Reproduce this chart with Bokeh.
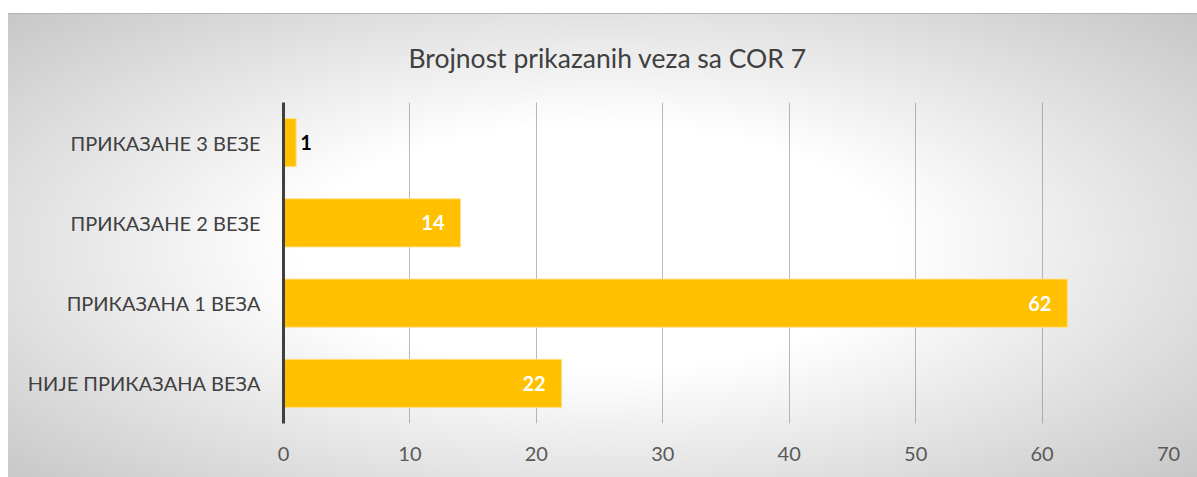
from bokeh.plotting import figure
from bokeh.models import ColumnDataSource, Range1d, FactorRange, FixedTicker
from bokeh.core.properties import value
from bokeh.embed import file_html
from bokeh.resources import INLINE

categories = ["НИЈЕ ПРИКАЗАНА ВЕЗА", "ПРИКАЗАНА 1 ВЕЗА", "ПРИКАЗАНЕ 2 ВЕЗЕ", "ПРИКАЗАНЕ 3 ВЕЗЕ"]
counts = [22, 62, 14, 1]
x_ticks = [0, 10, 20, 30, 40, 50, 60, 70]
title_text = "Brojnost prikazanih veza sa COR 7"

FONT = "Lato"
W, H = 1197, 477
LEFT, RIGHT, TOP, BOTTOM = 283, 29, 102, 54

p = figure(width=W, height=H, y_range=FactorRange(*categories, range_padding=0),
           x_range=Range1d(0, 70), output_backend="svg", toolbar_location=None,
           min_border_left=LEFT, min_border_right=RIGHT, min_border_top=TOP,
           min_border_bottom=BOTTOM, title=title_text)
p.styles = {
    "background": "linear-gradient(#ffffff, #ffffff) left top / 8px 100% no-repeat, "
                  "linear-gradient(#ffffff, #ffffff) left top / 100% 13px no-repeat, "
                  "linear-gradient(#b4b4b4, #b4b4b4) 8px 13px / 100% 1px no-repeat, "
                  "radial-gradient(ellipse farthest-corner at 50% 52%, #ffffff 0%, #ffffff 35%, #c4c4c4 100%)"
}
p.background_fill_alpha = 0
p.border_fill_alpha = 0
p.outline_line_color = None

p.title.align = "left"
p.title.offset = 125
p.title.standoff = 57
p.title.text_font = FONT
p.title.text_font_size = "26.5px"
p.title.text_font_style = "normal"
p.title.text_color = "#404040"

src = ColumnDataSource(dict(cat=categories, val=counts))
p.hbar(y="cat", right="val", left=0, height=0.6, source=src,
       fill_color="#FFC000", line_color="#FFE08A", line_width=1)

inside = [(c, v) for c, v in zip(categories, counts) if v >= 5]
outside = [(c, v) for c, v in zip(categories, counts) if v < 5]
src_in = ColumnDataSource(dict(cat=[c for c, _ in inside], val=[v for _, v in inside],
                               txt=[str(v) for _, v in inside]))
src_out = ColumnDataSource(dict(cat=[c for c, _ in outside], val=[v for _, v in outside],
                                txt=[str(v) for _, v in outside]))
p.text(x="val", y="cat", text="txt", source=src_in, x_offset=-16, text_align="right",
       text_baseline="middle", text_color="white", text_font=value(FONT),
       text_font_size="20px", text_font_style="bold")
p.text(x="val", y="cat", text="txt", source=src_out, x_offset=4, text_align="left",
       text_baseline="middle", text_color="black", text_font=value(FONT),
       text_font_size="20px", text_font_style="bold")

p.ygrid.grid_line_color = None
p.xgrid.grid_line_color = "#808080"
p.xgrid.grid_line_alpha = 0.55
p.xgrid.ticker = FixedTicker(ticks=x_ticks)

p.xaxis.ticker = FixedTicker(ticks=x_ticks)
p.xaxis.axis_line_color = None
p.xaxis.major_tick_line_color = None
p.xaxis.minor_tick_line_color = None
p.xaxis.major_label_standoff = 17
p.xaxis.major_label_text_font = FONT
p.xaxis.major_label_text_font_size = "20px"
p.xaxis.major_label_text_color = "#595959"

p.yaxis.axis_line_color = "#404040"
p.yaxis.axis_line_width = 3
p.yaxis.major_tick_line_color = None
p.yaxis.minor_tick_line_color = None
p.yaxis.major_label_standoff = 17
p.yaxis.major_label_text_font = FONT
p.yaxis.major_label_text_font_size = "20px"
p.yaxis.major_label_text_color = "#404040"

open("out.html", "w").write(file_html(p, INLINE))
